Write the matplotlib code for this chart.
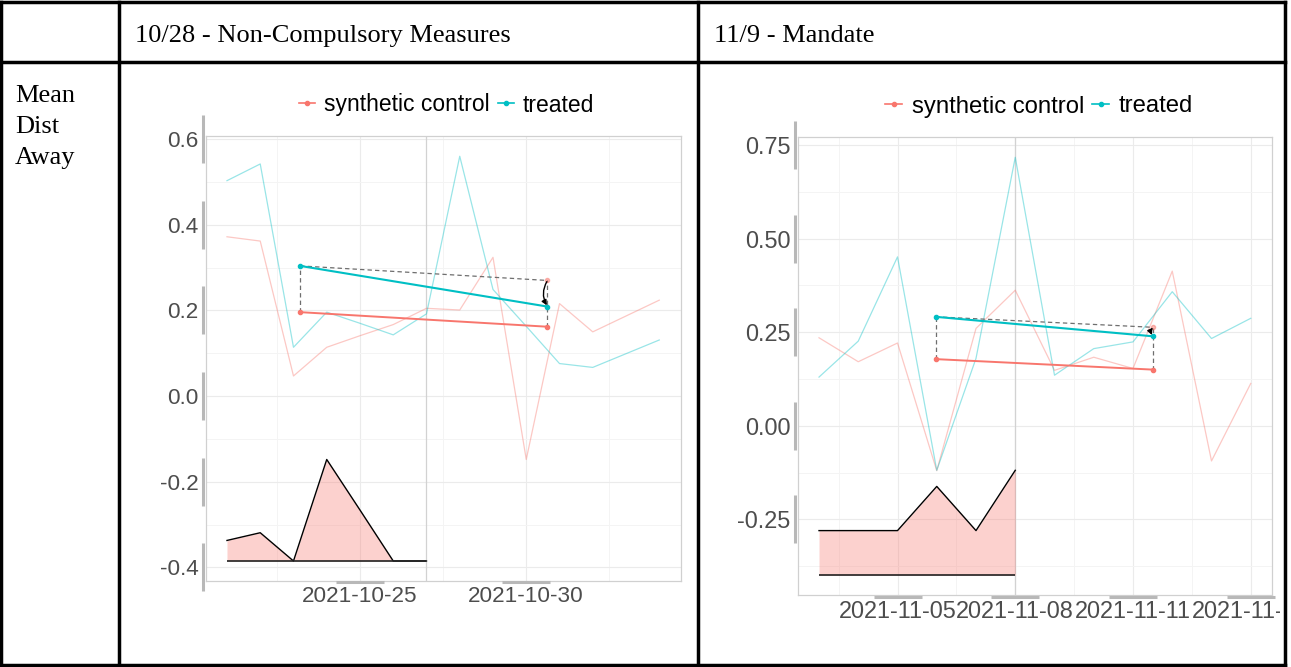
"""Synthetic-control comparison table: two event windows side by side."""

import matplotlib
matplotlib.use("Agg")
import matplotlib.pyplot as plt
import matplotlib.dates as mdates
import matplotlib.transforms as mtransforms
from matplotlib.lines import Line2D
from matplotlib.patches import FancyArrowPatch
from matplotlib.ticker import FixedLocator, FormatStrFormatter
import numpy as np

plt.rcParams.update({
    "font.family": ["Liberation Sans", "DejaVu Sans"],
    "axes.unicode_minus": False,
})

W, H = 1291, 667
RED, CYAN = "#F8766D", "#00BFC4"

# ---- table text
col_titles = ["10/28 - Non-Compulsory Measures", "11/9 - Mandate"]
row_title = ["Mean", "Dist", "Away"]
legend_labels = ["synthetic control", "treated"]

# ---- 10/28 window
days_a = ["2021-10-21", "2021-10-22", "2021-10-23", "2021-10-24", "2021-10-25",
          "2021-10-26", "2021-10-27", "2021-10-28", "2021-10-29", "2021-10-30",
          "2021-10-31", "2021-11-01", "2021-11-02", "2021-11-03"]
treated_a = [0.503, 0.542, 0.114, 0.196, 0.170, 0.143, 0.192, 0.560, 0.249,
             0.163, 0.076, 0.067, 0.099, 0.131]
synth_a = [0.372, 0.362, 0.047, 0.114, 0.141, 0.167, 0.205, 0.201, 0.324,
           -0.148, 0.216, 0.150, 0.187, 0.224]
gap_days_a = days_a[:7]
gap_a = [-0.337, -0.319, -0.385, -0.148, -0.266, -0.385, -0.385]
gap_floor_a = -0.385
sum_days_a = ["2021-10-23 04:48", "2021-10-30 15:20"]
treated_sum_a = [0.304, 0.209]
synth_sum_a = [0.196, 0.162]
treat_day_a = "2021-10-27"
yticks_a = [-0.4, -0.2, 0.0, 0.2, 0.4, 0.6]
yminor_a = [-0.3, -0.1, 0.1, 0.3, 0.5]
xticks_a = ["2021-10-25", "2021-10-30"]
xminor_a = ["2021-10-22 12:00", "2021-10-27 12:00", "2021-11-01 12:00"]

# ---- 11/9 window
days_b = ["2021-11-03", "2021-11-04", "2021-11-05", "2021-11-06", "2021-11-07",
          "2021-11-08", "2021-11-09", "2021-11-10", "2021-11-11", "2021-11-12",
          "2021-11-13", "2021-11-14"]
treated_b = [0.130, 0.226, 0.451, -0.119, 0.180, 0.717, 0.135, 0.206, 0.224,
             0.358, 0.233, 0.287]
synth_b = [0.235, 0.171, 0.221, -0.120, 0.260, 0.362, 0.148, 0.183, 0.153,
           0.413, -0.094, 0.113]
gap_days_b = days_b[:6]
gap_b = [-0.280, -0.280, -0.280, -0.162, -0.280, -0.119]
gap_floor_b = -0.399
sum_days_b = ["2021-11-05 23:15", "2021-11-11 12:00"]
treated_sum_b = [0.291, 0.239]
synth_sum_b = [0.178, 0.150]
treat_day_b = "2021-11-08"
yticks_b = [-0.25, 0.0, 0.25, 0.5, 0.75]
yminor_b = [-0.375, -0.125, 0.125, 0.375, 0.625]
xticks_b = ["2021-11-05", "2021-11-08", "2021-11-11", "2021-11-14"]
xminor_b = ["2021-11-03 12:00", "2021-11-06 12:00", "2021-11-09 12:00",
            "2021-11-12 12:00"]


def to_num(values):
    return mdates.date2num(np.array(values, dtype="datetime64[m]"))


def px_rect(left, top, right, bottom):
    return [left / W, 1 - bottom / H, (right - left) / W, (bottom - top) / H]


def draw_panel(fig, rect, days, treated, synth, gap_days, gap, gap_floor,
               sum_days, treated_sum, synth_sum, treat_day,
               xticks, xminor, yticks, yminor, yfmt, xlim, ylim, legend_at,
               fs=16.3):
    ax = fig.add_axes(rect)
    x = to_num(days)

    ax.fill_between(to_num(gap_days), gap_floor, gap, color=RED, alpha=0.33,
                    lw=0, zorder=2)
    ax.plot(to_num(gap_days), gap, color="black", lw=1.0, zorder=3)
    ax.hlines(gap_floor, to_num(gap_days)[0], to_num(gap_days)[-1],
              color="#222222", lw=1.2, zorder=3)

    ax.axvline(to_num([treat_day])[0], color="#d2d2d2", lw=0.9, zorder=1)
    ax.plot(x, synth, color=RED, alpha=0.4, lw=0.9, zorder=3)
    ax.plot(x, treated, color=CYAN, alpha=0.4, lw=0.9, zorder=3)

    sx = to_num(sum_days)
    cf = treated_sum[0] + synth_sum[1] - synth_sum[0]
    dash = dict(color="#6e6e6e", lw=0.9, ls=(0, (3.5, 2.5)), zorder=4)
    ax.plot([sx[0], sx[1]], [treated_sum[0], cf], **dash)
    ax.plot([sx[0], sx[0]], [synth_sum[0], treated_sum[0]], **dash)
    ax.plot([sx[1], sx[1]], [synth_sum[1], cf], **dash)
    ax.plot(sx, synth_sum, color=RED, lw=1.4, marker="o", ms=3, zorder=5)
    ax.plot(sx, treated_sum, color=CYAN, lw=1.5, marker="o", ms=3, zorder=5)
    ax.plot([sx[1]], [cf], "o", color=RED, alpha=0.5, ms=3, zorder=5)
    ax.add_patch(FancyArrowPatch((sx[1], cf), (sx[1], treated_sum[1]),
                                 connectionstyle="arc3,rad=0.3",
                                 arrowstyle="-|>,head_length=3,head_width=1.5",
                                 color="black", lw=1.0, zorder=6,
                                 shrinkA=1, shrinkB=1))

    x0 = to_num([xticks[0]])[0]
    ax.set_xlim(x0 + xlim[0], x0 + xlim[1])
    ax.set_ylim(*ylim)
    ax.xaxis.set_major_locator(FixedLocator(to_num(xticks)))
    ax.xaxis.set_minor_locator(FixedLocator(to_num(xminor)))
    ax.xaxis.set_major_formatter(mdates.DateFormatter("%Y-%m-%d"))
    ax.yaxis.set_major_locator(FixedLocator(yticks))
    ax.yaxis.set_minor_locator(FixedLocator(yminor))
    ax.yaxis.set_major_formatter(FormatStrFormatter(yfmt))
    ax.tick_params(which="both", length=0)
    ax.tick_params(axis="y", pad=5.3, labelsize=fs, labelcolor="#4d4d4d")
    ax.tick_params(axis="x", pad=3.5, labelsize=fs, labelcolor="#4d4d4d")
    ax.grid(which="major", color="#ebebeb", lw=0.8)
    ax.grid(which="minor", color="#f4f4f4", lw=0.7)
    ax.set_axisbelow(True)
    for s in ax.spines.values():
        s.set_color("#d0d0d0")
        s.set_linewidth(0.9)

    # the long grey tick bars that run along each axis
    ytrans = (mtransforms.blended_transform_factory(ax.transAxes, ax.transData)
              + mtransforms.ScaledTranslation(-2.5 / 100, 0, fig.dpi_scale_trans))
    for v in yticks:
        ax.plot([0], [v], marker="|", ms=35, mew=2.2, color="#b8b8b8",
                transform=ytrans, clip_on=False, zorder=7)
    xtrans = (mtransforms.blended_transform_factory(ax.transData, ax.transAxes)
              + mtransforms.ScaledTranslation(0, -1.6 / 100, fig.dpi_scale_trans))
    for v in to_num(xticks):
        ax.plot([v], [0], marker="_", ms=35, mew=2.2, color="#b8b8b8",
                transform=xtrans, clip_on=False, zorder=7)

    handles = [Line2D([], [], color=c, lw=1.2, marker="o", ms=3)
               for c in (RED, CYAN)]
    fig.legend(handles, legend_labels, loc="center", ncol=2, frameon=False,
               bbox_to_anchor=(legend_at[0] / W, 1 - legend_at[1] / H),
               fontsize=fs + 0.3, handlelength=0.7, handletextpad=0.4,
               columnspacing=0.35, borderpad=0, borderaxespad=0)
    return ax


fig = plt.figure(figsize=(W / 100, H / 100), dpi=100)

ax_a = draw_panel(fig, px_rect(205.7, 135.7, 680.7, 580.7), days_a, treated_a,
                  synth_a, gap_days_a, gap_a, gap_floor_a, sum_days_a,
                  treated_sum_a, synth_sum_a, treat_day_a, xticks_a, xminor_a,
                  yticks_a, yminor_a, "%.1f", (-4.64, 9.645), (-0.431, 0.608),
                  (446.5, 105), fs=16.2)
ax_b = draw_panel(fig, px_rect(797.7, 136.7, 1272.3, 595.0), days_b, treated_b,
                  synth_b, gap_days_b, gap_b, gap_floor_b, sum_days_b,
                  treated_sum_b, synth_sum_b, treat_day_b, xticks_b, xminor_b,
                  yticks_b, yminor_b, "%.2f", (-2.543, 9.549), (-0.452, 0.772),
                  (1039, 106.5), fs=16.9)

# the right-hand chart image is cropped by its table cell
clip = mtransforms.TransformedBbox(
    mtransforms.Bbox.from_extents(0, 0, 1280 / W, 1), fig.transFigure)
for lbl in ax_b.get_xticklabels():
    lbl.set_clip_on(True)
    lbl.set_clip_box(clip)

# table grid
rule = dict(color="black", lw=2.5, transform=fig.transFigure,
            solid_capstyle="projecting")
for y in (1.5, 62, 665):
    fig.add_artist(Line2D([1.5 / W, 1285 / W], [1 - y / H, 1 - y / H], **rule))
for xx in (1.5, 119, 697.5, 1285):
    fig.add_artist(Line2D([xx / W, xx / W], [1 - 1.5 / H, 1 - 665 / H], **rule))

serif = dict(family=["Liberation Serif", "DejaVu Serif"], fontsize=19,
             va="baseline", ha="left")
for xx, title in zip((135, 714), col_titles):
    fig.text(xx / W, 1 - 42 / H, title, **serif)
for i, word in enumerate(row_title):
    fig.text(15 / W, 1 - (102 + 31 * i) / H, word, **serif)

fig.savefig("out.png", dpi=100)
